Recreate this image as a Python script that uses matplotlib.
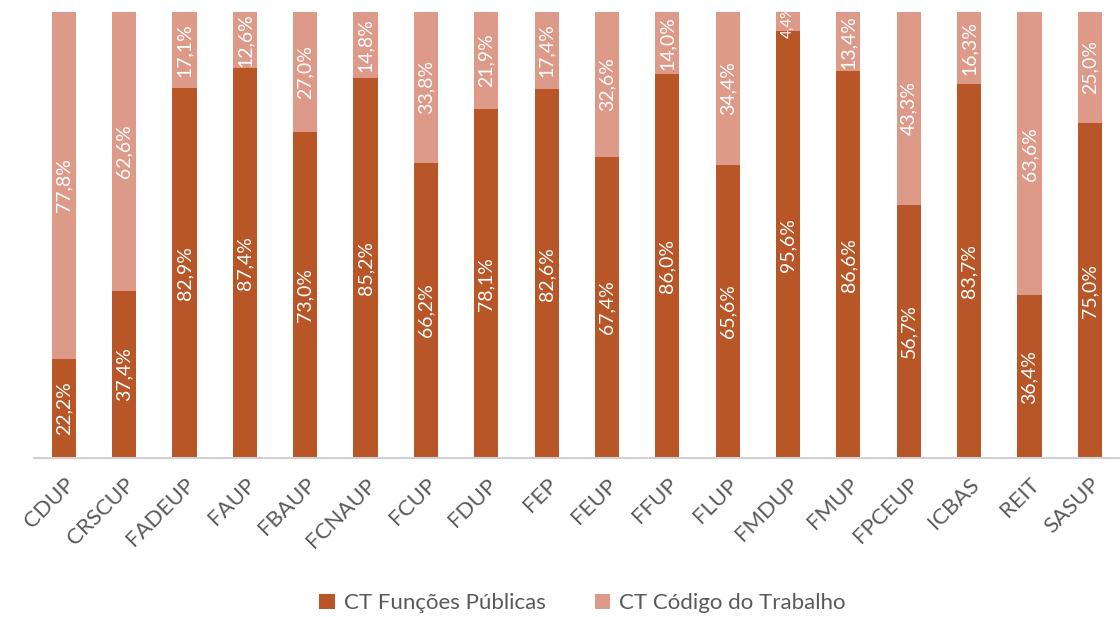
import numpy as np
import matplotlib.pyplot as plt

# data
categories = ['CDUP', 'CRSCUP', 'FADEUP', 'FAUP', 'FBAUP', 'FCNAUP', 'FCUP', 'FDUP', 'FEP',
              'FEUP', 'FFUP', 'FLUP', 'FMDUP', 'FMUP', 'FPCEUP', 'ICBAS', 'REIT', 'SASUP']
funcoes_publicas = [22.2, 37.4, 82.9, 87.4, 73.0, 85.2, 66.2, 78.1, 82.6,
                    67.4, 86.0, 65.6, 95.6, 86.6, 56.7, 83.7, 36.4, 75.0]
codigo_trabalho = [77.8, 62.6, 17.1, 12.6, 27.0, 14.8, 33.8, 21.9, 17.4,
                   32.6, 14.0, 34.4, 4.4, 13.4, 43.3, 16.3, 63.6, 25.0]
series_names = ['CT Funções Públicas', 'CT Código do Trabalho']

DARK = '#B85627'
LIGHT = '#DE9A89'

plt.rcParams['font.family'] = ['Lato', 'DejaVu Sans']

fig = plt.figure(figsize=(11.2, 6.17), dpi=100)
ax = fig.add_axes([0.03, 0.258, 0.97, 0.723])

x = np.arange(len(categories))
width = 0.4
b1 = ax.bar(x, funcoes_publicas, width, color=DARK, label=series_names[0])
b2 = ax.bar(x, codigo_trabalho, width, bottom=funcoes_publicas, color=LIGHT,
            label=series_names[1])


def fmt(v):
    return f"{v:.1f}".replace('.', ',') + '%'


for bars, vals, bottoms in [(b1, funcoes_publicas, [0] * len(x)),
                            (b2, codigo_trabalho, funcoes_publicas)]:
    for xi, v, b in zip(x, vals, bottoms):
        size = 14 if v > 8 else 11
        ax.text(xi, b + v / 2, fmt(v), rotation=90, ha='center', va='center',
                color='white', fontsize=size)

ax.set_xlim(-0.5, len(categories) - 0.5)
ax.set_ylim(0, 100)
ax.set_xticks(x)
ax.set_xticklabels(categories, rotation=45, ha='right', rotation_mode='anchor',
                   fontsize=16, color='#595959')
ax.tick_params(axis='x', length=0, pad=12)
ax.set_yticks([])
for side in ['top', 'right', 'left']:
    ax.spines[side].set_visible(False)
ax.spines['bottom'].set_color('#D0D0D0')
ax.spines['bottom'].set_linewidth(1.5)

fig.legend(handles=[b1, b2], labels=series_names, loc='center',
           bbox_to_anchor=(0.52, 0.022), ncol=2, frameon=False, fontsize=16,
           handlelength=0.7, handleheight=0.7, handletextpad=0.4, columnspacing=2.2,
           labelcolor='#595959')

fig.savefig('out.png', dpi=100)
